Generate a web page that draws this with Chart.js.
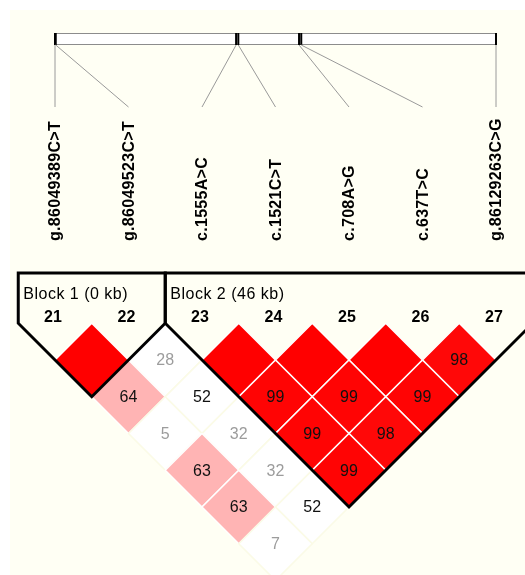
<!DOCTYPE html>
<html>
<head>
<meta charset="utf-8">
<script src="https://cdn.jsdelivr.net/npm/chart.js@4/dist/chart.umd.min.js"></script>
<style>
  body { margin: 0; background: #fff; }
</style>
</head>
<body>
<canvas id="ld" width="525" height="575"></canvas>
<script>
// markers, left to right
const markers = ['g.86049389C>T', 'g.86049523C>T', 'c.1555A>C', 'c.1521C>T', 'c.708A>G', 'c.637T>C', 'g.86129263C>G'];
const markerNums = [21, 22, 23, 24, 25, 26, 27];
// physical position on the top bar (kb from first marker)
const markerKb = [0, 0.134, 32.8, 33.2, 44.2, 44.6, 79.874];
// D' x100, row d holds pairs (k, k+d)
const dprime = [
    [100, 28, 100, 100, 100, 98],
    [64, 52, 99, 99, 99],
    [5, 32, 99, 98],
    [63, 32, 99],
    [63, 52],
    [7]
];
const blockFirst = [1, 3];
const blockLast = [2, 7];
const blockNames = ['Block 1 (0 kb)', 'Block 2 (46 kb)'];

const unit = 73.5;          // px per marker step
const xMin = 1 - 55 / unit;
const yTop = 323.25;        // px of the top of the first diamond row

// one point per pair
let cells = [];
dprime.forEach(function(row, r) {
    const d = r + 1;
    row.forEach(function(v, k) {
        const i = k + 1;
        cells.push({x: i + d / 2, y: d / 2, v: v});
    });
});

function cellColor(v) {
    if (v >= 90) {
        const g = Math.round((100 - v) * 4);
        return 'rgb(255,' + g + ',' + g + ')';
    }
    if (v >= 60) return '#ffb4b4';
    return '#ffffff';
}

function kbToX(kb) {
    return 1 + (kb - markerKb[0]) / (markerKb[markerKb.length - 1] - markerKb[0]) * (markers.length - 1);
}

const ldPlugin = {
    id: 'ldplot',
    beforeDatasetsDraw(chart) {
        const ctx = chart.ctx;
        const xs = chart.scales.x;
        ctx.save();
        ctx.fillStyle = '#ffffff';
        ctx.fillRect(0, 0, chart.width, chart.height);
        ctx.fillStyle = '#fffff4';
        ctx.fillRect(10, 10, chart.width - 10, chart.height - 10);

        // chromosome bar
        const x0 = xs.getPixelForValue(1), x1 = xs.getPixelForValue(markers.length);
        ctx.fillStyle = '#ffffff';
        ctx.fillRect(x0, 33, x1 - x0, 12);
        ctx.strokeStyle = '#8c8c8c';
        ctx.lineWidth = 1;
        ctx.strokeRect(x0 + 0.5, 33.5, x1 - x0, 11);

        markers.forEach(function(name, k) {
            const tx = xs.getPixelForValue(kbToX(markerKb[k]));
            const mx = xs.getPixelForValue(k + 1);
            ctx.strokeStyle = '#000';
            ctx.lineWidth = 2;
            ctx.beginPath();
            ctx.moveTo(tx, 33);
            ctx.lineTo(tx, 45);
            ctx.stroke();
            ctx.strokeStyle = '#9a9a9a';
            ctx.lineWidth = 1;
            ctx.beginPath();
            ctx.moveTo(tx, 45);
            ctx.lineTo(mx, 107);
            ctx.stroke();

            ctx.save();
            ctx.translate(mx + 1, 241);
            ctx.rotate(-Math.PI / 2);
            ctx.font = 'bold 16px "Liberation Sans", Arial, sans-serif';
            ctx.letterSpacing = '0.3px';
            ctx.fillStyle = '#000';
            ctx.textAlign = 'left';
            ctx.textBaseline = 'middle';
            ctx.fillText(name, 0, 0);
            ctx.restore();
        });
        ctx.restore();
    },
    afterDatasetsDraw(chart) {
        const ctx = chart.ctx;
        const xs = chart.scales.x, ys = chart.scales.y;
        ctx.save();

        // numbers inside the diamonds
        ctx.font = '16px "Liberation Sans", Arial, sans-serif';
        ctx.textAlign = 'center';
        ctx.textBaseline = 'middle';
        cells.forEach(function(c) {
            if (c.v >= 100) return;
            ctx.fillStyle = c.v >= 50 ? '#111' : '#9c9c9c';
            ctx.fillText(String(c.v), xs.getPixelForValue(c.x), ys.getPixelForValue(c.y) + 1);
        });

        // block outlines
        ctx.strokeStyle = '#000';
        ctx.lineWidth = 3;
        ctx.lineJoin = 'miter';
        blockFirst.forEach(function(a, b) {
            const last = blockLast[b];
            const left = xs.getPixelForValue(a - 0.5);
            const right = xs.getPixelForValue(last + 0.5);
            const top = ys.getPixelForValue(0);
            ctx.beginPath();
            ctx.moveTo(left, 273);
            ctx.lineTo(left, top);
            ctx.lineTo(xs.getPixelForValue((a + last) / 2), ys.getPixelForValue((last - a + 1) / 2));
            ctx.lineTo(right, top);
            ctx.lineTo(right, 273);
            ctx.closePath();
            ctx.stroke();

            ctx.fillStyle = '#000';
            ctx.font = '16px "Liberation Sans", Arial, sans-serif';
            ctx.letterSpacing = '0.5px';
            ctx.textAlign = 'left';
            ctx.textBaseline = 'alphabetic';
            ctx.fillText(blockNames[b], left + 5, 299);
            ctx.letterSpacing = '0px';
        });

        // marker numbers
        ctx.font = 'bold 16px "Liberation Sans", Arial, sans-serif';
        ctx.textAlign = 'center';
        ctx.textBaseline = 'alphabetic';
        ctx.fillStyle = '#000';
        markerNums.forEach(function(n, k) {
            ctx.fillText(String(n), xs.getPixelForValue(k + 1) - 2, 322);
        });
        ctx.restore();
    }
};

new Chart(document.getElementById('ld'), {
    type: 'scatter',
    data: {
        datasets: [{
            data: cells,
            pointStyle: 'rectRot',
            pointRadius: function(c) {
                const s = c.chart.scales.x;
                return s.getPixelForValue(0.5) - s.getPixelForValue(0);
            },
            pointBackgroundColor: function(c) {
                return c.raw ? cellColor(c.raw.v) : '#fff';
            },
            pointBorderColor: function(c) {
                return c.raw && c.raw.v >= 60 ? '#ffffff' : '#fbfbe6';
            },
            pointBorderWidth: 1.5
        }]
    },
    options: {
        responsive: false,
        animation: false,
        events: [],
        layout: { padding: 0 },
        clip: false,
        scales: {
            x: { type: 'linear', display: false, min: xMin, max: xMin + 525 / unit },
            y: { type: 'linear', display: false, reverse: true, min: -yTop / unit, max: (575 - yTop) / unit }
        },
        plugins: {
            legend: { display: false },
            tooltip: { enabled: false }
        }
    },
    plugins: [ldPlugin]
});
</script>
</body>
</html>
